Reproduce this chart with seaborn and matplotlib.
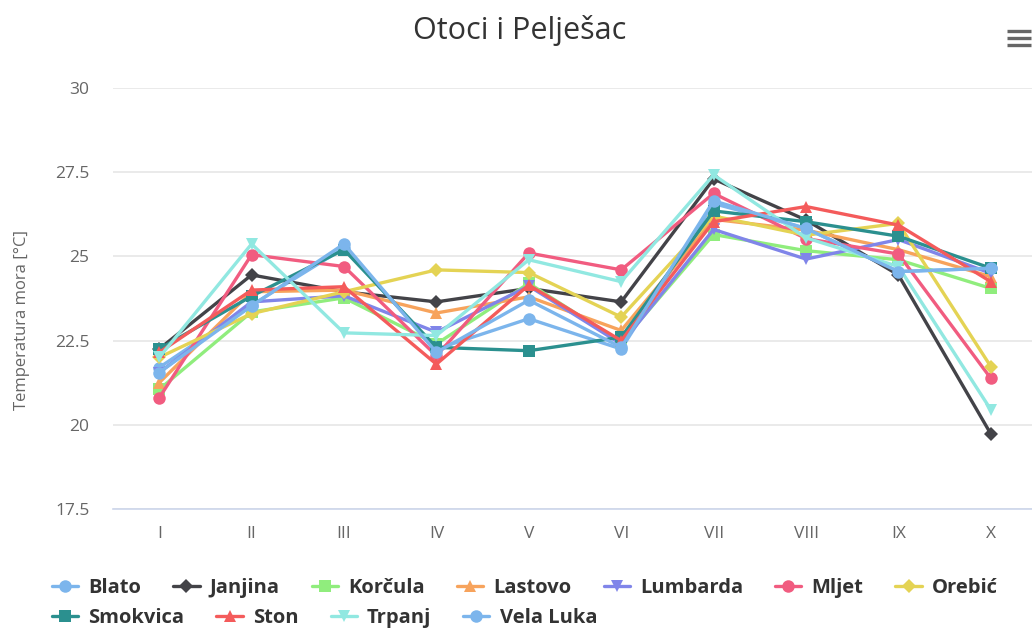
import numpy as np
import pandas as pd
import matplotlib.pyplot as plt
import seaborn as sns
from matplotlib.lines import Line2D

# Data (sea temperature per month)
months = ["I", "II", "III", "IV", "V", "VI", "VII", "VIII", "IX", "X"]
blato = [21.7, 23.55, 25.25, 22.25, 23.15, 22.25, 26.57, 25.83, 24.55, 24.65]
janjina = [22.25, 24.45, 23.95, 23.65, 24.05, 23.65, 27.3, 26.08, 24.45, 19.73]
korcula = [21.05, 23.35, 23.77, 22.4, 24.2, 22.45, 25.65, 25.17, 24.9, 24.05]
lastovo = [21.25, 23.95, 24.0, 23.32, 23.8, 22.8, 26.1, 25.78, 25.2, 24.4]
lumbarda = [21.55, 23.65, 23.83, 22.75, 24.12, 22.4, 25.8, 24.92, 25.5, 24.5]
mljet = [20.8, 25.05, 24.7, 22.05, 25.1, 24.6, 26.87, 25.53, 25.07, 21.38]
orebic = [22.0, 23.3, 23.95, 24.6, 24.52, 23.2, 26.2, 25.63, 25.98, 21.73]
smokvica = [22.25, 23.82, 25.2, 22.3, 22.2, 22.6, 26.35, 26.03, 25.6, 24.65]
ston = [22.15, 24.0, 24.1, 21.8, 24.15, 22.5, 26.03, 26.48, 25.93, 24.25]
trpanj = [22.0, 25.37, 22.73, 22.65, 24.9, 24.25, 27.42, 25.55, 24.7, 20.45]
vela_luka = [21.55, 23.53, 25.37, 22.15, 23.7, 22.3, 26.65, 25.83, 24.55, 24.65]

series_names = ["Blato", "Janjina", "Korčula", "Lastovo", "Lumbarda", "Mljet",
                "Orebić", "Smokvica", "Ston", "Trpanj", "Vela Luka"]
series_values = [blato, janjina, korcula, lastovo, lumbarda, mljet,
                 orebic, smokvica, ston, trpanj, vela_luka]
colors = ["#7cb5ec", "#434348", "#90ed7d", "#f7a35c", "#8085e9", "#f15c80",
          "#e4d354", "#2b908f", "#f45b5b", "#91e8e1", "#7cb5ec"]
markers = ["o", "D", "s", "^", "v", "o", "D", "s", "^", "v", "o"]
msizes = [9, 7, 8, 9, 9, 9, 7, 8, 9, 9, 9]

df = pd.DataFrame({"month": months})
df["pos"] = np.arange(len(months))
for name, vals in zip(series_names, series_values):
    df[name] = vals

sns.set_style("white")
plt.rcParams["font.family"] = ["Open Sans", "DejaVu Sans"]

fig = plt.figure(figsize=(10.32, 6.31), dpi=100)
ax = fig.add_axes([113 / 1032, 1 - 509 / 631, 924 / 1032, 421 / 631])

for name, color, m, ms in zip(series_names, colors, markers, msizes):
    sns.lineplot(data=df, x="pos", y=name, color=color, marker=m, markersize=ms,
                 markeredgewidth=0, linewidth=2.4, legend=False, ax=ax)

# Axes styling
ax.set_xlim(-0.5, len(months) - 0.5)
ax.set_ylim(17.5, 30)
ax.set_yticks([17.5, 20, 22.5, 25, 27.5, 30])
ax.set_yticklabels(["17.5", "20", "22.5", "25", "27.5", "30"])
ax.set_xticks(df["pos"])
ax.set_xticklabels(months)
ax.set_xticks(np.arange(-0.5, len(months)), minor=True)
ax.tick_params(axis="x", which="major", length=0, pad=12, labelsize=12.5, labelcolor="#666666")
ax.tick_params(axis="x", which="minor", length=9, width=1, color="#ccd6eb")
ax.tick_params(axis="y", length=0, pad=17, labelsize=12.5, labelcolor="#666666")
ax.grid(axis="y", color="#e6e6e6", linewidth=1.2)
ax.set_axisbelow(True)
for s in ["top", "right", "left"]:
    ax.spines[s].set_visible(False)
ax.spines["bottom"].set_color("#ccd6eb")
ax.spines["bottom"].set_linewidth(1.2)
ax.set_xlabel("")
ax.set_ylabel("Temperatura mora [°C]", fontsize=12, color="#666666")
ax.yaxis.set_label_coords(-0.09, 0.45)

fig.text(520 / 1032, 1 - 30 / 631, "Otoci i Pelješac", ha="center", va="center",
         fontsize=22, color="#333333")

# Hamburger menu icon
for yy in [31, 38, 45]:
    fig.add_artist(Line2D([1007 / 1032, 1031 / 1032], [1 - yy / 631, 1 - yy / 631],
                          color="#666666", linewidth=2.4, solid_capstyle="butt"))

# Legend, two flowing rows
handles = [Line2D([0], [0], color=c, marker=m, markersize=ms, markeredgewidth=0, linewidth=2.4)
           for c, m, ms in zip(colors, markers, msizes)]
legend_kw = dict(frameon=False, handlelength=1.3, handletextpad=0.5, columnspacing=1.6,
                 borderpad=0, borderaxespad=0, numpoints=1, loc="center left",
                 prop={"family": ["Open Sans", "DejaVu Sans"], "weight": "bold", "size": 14.5},
                 labelcolor="#333333")
leg1 = fig.legend(handles[:7], series_names[:7], ncol=7,
                  bbox_to_anchor=(52 / 1032, 1 - 588 / 631), **legend_kw)
leg2 = fig.legend(handles[7:], series_names[7:], ncol=4,
                  bbox_to_anchor=(52 / 1032, 1 - 618 / 631), **legend_kw)

fig.savefig("out.png", dpi=100)
